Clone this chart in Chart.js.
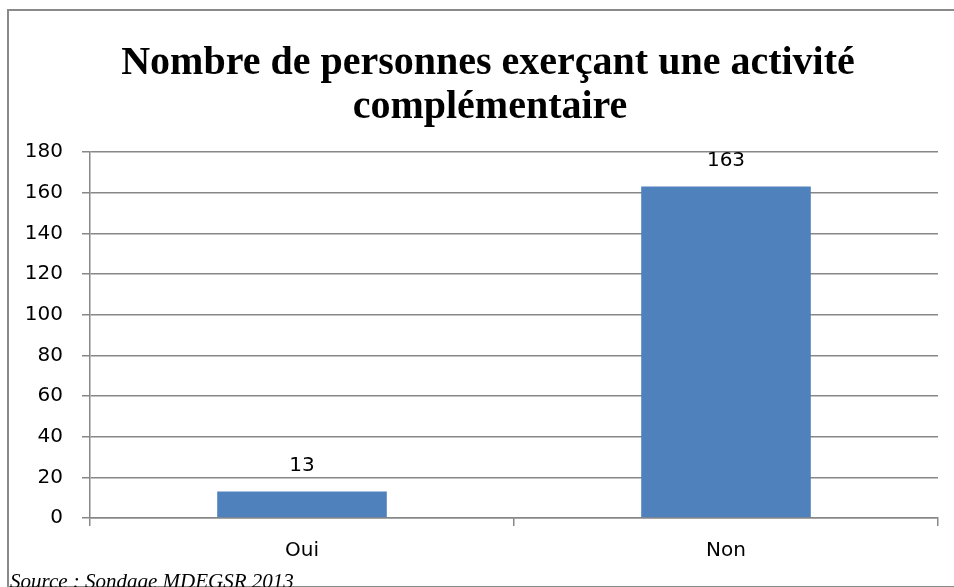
<!DOCTYPE html>
<html>
<head>
<meta charset="utf-8">
<script src="https://cdn.jsdelivr.net/npm/chart.js@4"></script>
<style>
    html, body { margin: 0; padding: 0; background: #fff; overflow: hidden; }
    #wrap { position: relative; width: 954px; height: 587px; overflow: hidden; }
    #frame {
        position: absolute; left: 7px; top: 9px; width: 980px; height: 575px;
        border: 2px solid #8a8a8a; border-right: none;
    }
    #source {
        position: absolute; left: 10px; top: 569px;
        font: italic 21px "Liberation Serif", serif; color: #000; white-space: nowrap;
    }
    canvas { position: absolute; left: 0; top: 0; }
</style>
</head>
<body>
<div id="wrap">
    <div id="frame"></div>
    <canvas id="chart" width="954" height="587"></canvas>
    <div id="source">Source : Sondage MDEGSR 2013</div>
</div>
<script>
const categories = ['Oui', 'Non'];
const counts = [13, 163];
const yTicks = [0, 20, 40, 60, 80, 100, 120, 140, 160, 180];

const titleLines = ['Nombre de personnes exerçant une activité', 'complémentaire'];
const gridColor = '#878787';
const barColor = '#4F81BD';
const tickFont = { family: '"DejaVu Sans", sans-serif', size: 20 };

// two-line title, drawn by hand so it sits where the original does
const chartTitle = {
    id: 'chartTitle',
    afterDraw(chart) {
        const ctx = chart.ctx;
        ctx.save();
        ctx.font = 'bold 40px "Liberation Serif", serif';
        ctx.fillStyle = '#000';
        ctx.textAlign = 'center';
        ctx.textBaseline = 'alphabetic';
        ctx.fillText(titleLines[0], 488, 74);
        ctx.fillText(titleLines[1], 490, 118);
        ctx.restore();
    }
};

// value labels above each bar
const valueLabels = {
    id: 'valueLabels',
    afterDatasetsDraw(chart) {
        const ctx = chart.ctx;
        const meta = chart.getDatasetMeta(0);
        ctx.save();
        ctx.font = '20px "DejaVu Sans", sans-serif';
        ctx.fillStyle = '#000';
        ctx.textAlign = 'center';
        ctx.textBaseline = 'middle';
        meta.data.forEach((bar, i) => {
            ctx.fillText(String(counts[i]), bar.x, bar.y - 26);
        });
        ctx.restore();
    }
};

new Chart(document.getElementById('chart'), {
    type: 'bar',
    data: {
        labels: categories,
        datasets: [{
            data: counts,
            backgroundColor: barColor,
            borderWidth: 0,
            barPercentage: 0.4,
            categoryPercentage: 1
        }]
    },
    options: {
        responsive: false,
        animation: false,
        layout: { padding: { left: 0, right: 16, top: 152, bottom: 0 } },
        plugins: {
            legend: { display: false },
            tooltip: { enabled: false },
            title: { display: false }
        },
        scales: {
            x: {
                grid: {
                    display: true,
                    drawOnChartArea: false,
                    drawTicks: true,
                    tickLength: 8,
                    color: gridColor,
                    lineWidth: 1.5
                },
                border: { color: gridColor, width: 1.5 },
                ticks: { color: '#000', font: tickFont, padding: 13 },
                afterFit(scale) { scale.height = 69; }
            },
            y: {
                min: 0,
                max: 180,
                afterBuildTicks(scale) {
                    scale.ticks = yTicks.map(v => ({ value: v }));
                },
                grid: {
                    color: gridColor,
                    lineWidth: 1.5,
                    tickLength: 8
                },
                border: { color: gridColor, width: 1.5 },
                ticks: { color: '#000', font: tickFont, padding: 19 },
                afterFit(scale) { scale.width = 90; }
            }
        }
    },
    plugins: [chartTitle, valueLabels]
});
</script>
</body>
</html>
